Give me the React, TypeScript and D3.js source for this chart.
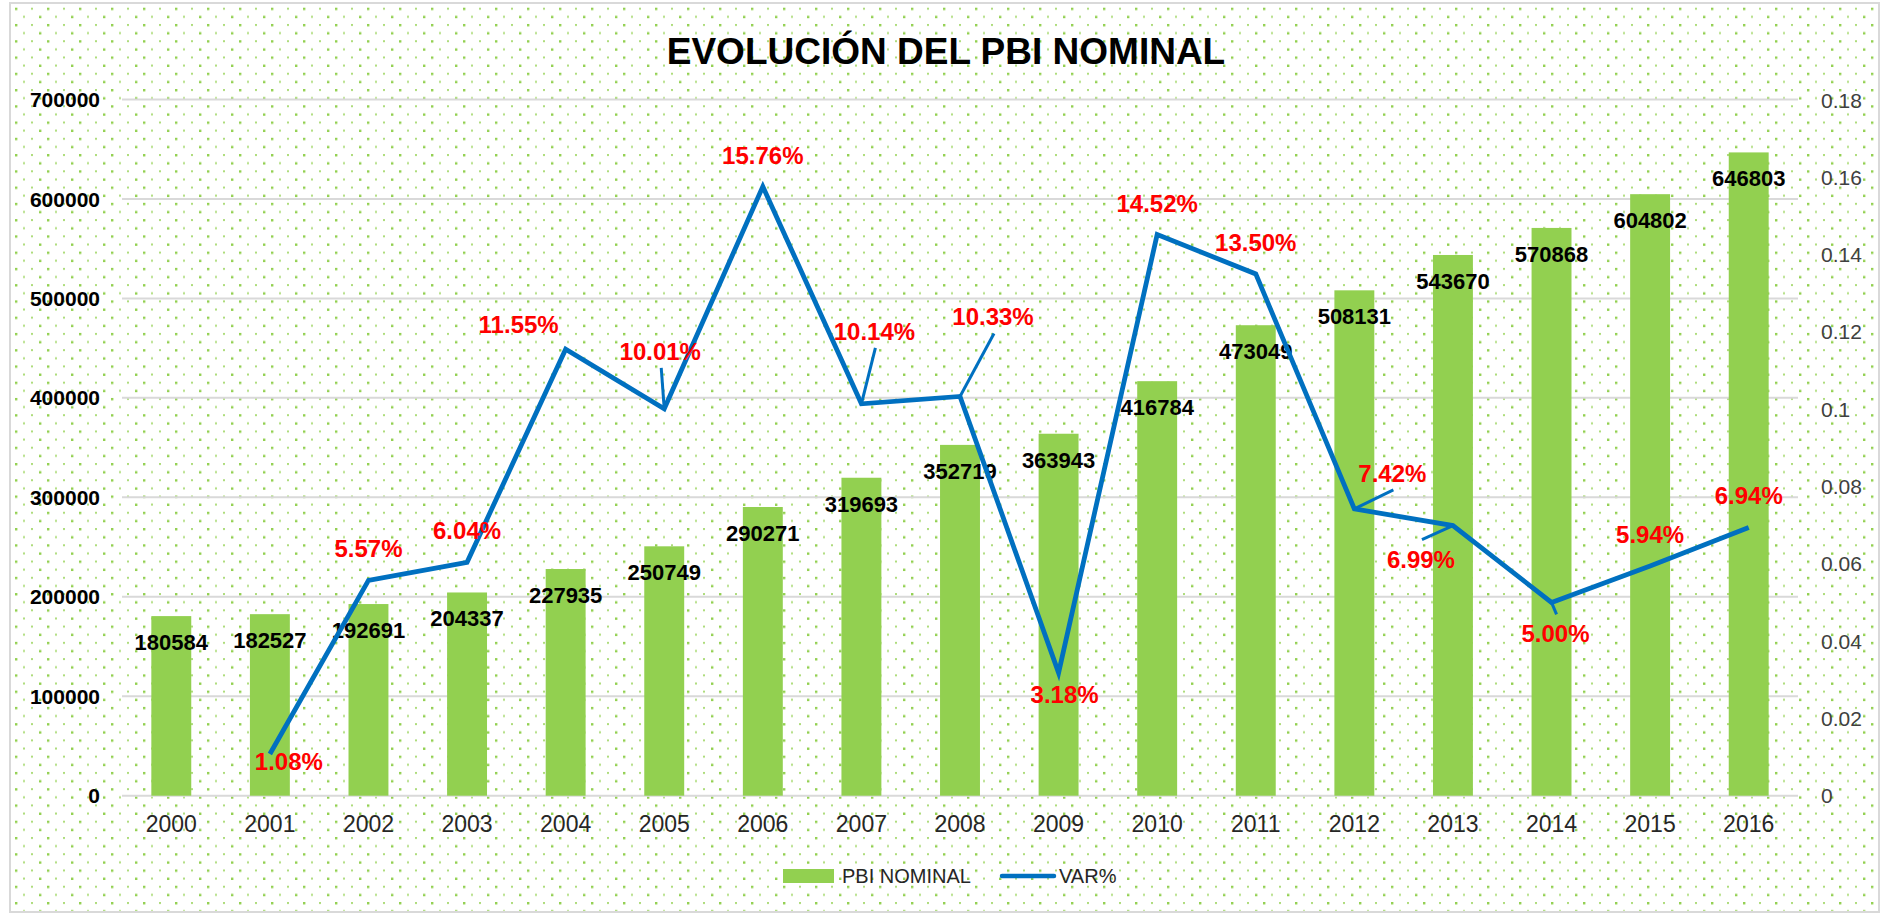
import React from 'react';
import * as d3 from 'd3';

// data
const years = ['2000', '2001', '2002', '2003', '2004', '2005', '2006', '2007', '2008',
  '2009', '2010', '2011', '2012', '2013', '2014', '2015', '2016'];
const pbiNominal = [180584, 182527, 192691, 204337, 227935, 250749, 290271, 319693, 352719,
  363943, 416784, 473049, 508131, 543670, 570868, 604802, 646803];
const varPct: (number | null)[] = [null, 0.0108, 0.0557, 0.0604, 0.1155, 0.1001, 0.1576, 0.1014,
  0.1033, 0.0318, 0.1452, 0.1350, 0.0742, 0.0699, 0.0500, 0.0594, 0.0694];
const leftTicks = [0, 100000, 200000, 300000, 400000, 500000, 600000, 700000];
const rightTicks = [0, 0.02, 0.04, 0.06, 0.08, 0.1, 0.12, 0.14, 0.16, 0.18];
const title = 'EVOLUCIÓN DEL PBI NOMINAL';
const seriesNames = ['PBI NOMINAL', 'VAR%'];

// label nudges for the % labels (dx, baseline offset from point, leader line?)
const pctNudge: Record<string, [number, number, boolean]> = {
  '2001': [19, 16, false],
  '2004': [-47, -16, false],
  '2005': [-4, -49, true],
  '2007': [13, -64, true],
  '2008': [33, -71, true],
  '2009': [6, 30, false],
  '2012': [38, -27, true],
  '2013': [-32, 42, true],
  '2014': [4, 40, true],
};

const W = 1881;
const H = 913;
const font = '"Liberation Sans", Arial, sans-serif';
const green = '#92d050';
const blue = '#0070c0';

export default function App() {
  const x = d3.scaleBand<string>()
    .domain(years)
    .range([122, 1798])
    .paddingInner(0.595)
    .paddingOuter(0.2975);
  const yL = d3.scaleLinear().domain([0, 700000]).range([795.7, 99.5]);
  const yR = d3.scaleLinear().domain([0, 0.18]).range([795.7, 100]);
  const cx = (y: string) => (x(y) as number) + x.bandwidth() / 2;

  const linePts = years
    .map((yr, i) => ({ yr, v: varPct[i] }))
    .filter(d => d.v != null) as { yr: string; v: number }[];
  const line = d3.line<{ yr: string; v: number }>()
    .x(d => cx(d.yr))
    .y(d => yR(d.v));

  const fmtR = (v: number) => String(Math.round(v * 100) / 100);

  return (
    <svg width={W} height={H} style={{ position: 'absolute', left: 0, top: 0, display: 'block' }}>
      <defs>
        <pattern id="dots" patternUnits="userSpaceOnUse" width={32} height={16.26} x={15} y={7.7}>
          <rect x={0} y={0} width={2.4} height={2.4} fill={green} />
          <rect x={16} y={0} width={2} height={2} fill={green} opacity={0.75} />
          <rect x={8} y={8.13} width={2} height={2} fill={green} opacity={0.75} />
          <rect x={24} y={8.13} width={2.4} height={2.4} fill={green} />
        </pattern>
      </defs>
      <rect x={0} y={0} width={W} height={H} fill="#fff" />
      <rect x={10} y={3} width={1869} height={909} fill="url(#dots)" stroke="#d9d9d9" strokeWidth={2} />

      <text x={946} y={64} textAnchor="middle" fontFamily={font} fontWeight="bold" fontSize={37} fill="#000">
        {title}
      </text>

      {/* gridlines + left axis */}
      {leftTicks.map(t => (
        <g key={t}>
          <line x1={122} x2={1798} y1={yL(t)} y2={yL(t)} stroke="#d9d9d9" strokeWidth={2} />
          <text x={100} y={yL(t)} dy="0.36em" textAnchor="end" fontFamily={font} fontWeight="bold"
            fontSize={21} fill="#000">{t}</text>
        </g>
      ))}

      {/* right axis */}
      {rightTicks.map(t => (
        <text key={t} x={1821} y={yR(t)} dy="0.36em" textAnchor="start" fontFamily={font}
          fontSize={21} fill="#404040">{fmtR(t)}</text>
      ))}

      {/* bars */}
      {years.map((yr, i) => (
        <rect key={yr} x={x(yr)} y={yL(pbiNominal[i])} width={x.bandwidth()}
          height={yL(0) - yL(pbiNominal[i])} fill={green} />
      ))}

      {/* x axis labels */}
      {years.map(yr => (
        <text key={yr} x={cx(yr)} y={832} textAnchor="middle" fontFamily={font} fontSize={23}
          fill="#262626">{yr}</text>
      ))}

      {/* bar value labels */}
      {years.map((yr, i) => (
        <text key={yr} x={cx(yr)} y={yL(pbiNominal[i]) + 34} textAnchor="middle" fontFamily={font}
          fontWeight="bold" fontSize={22} fill="#000">{pbiNominal[i]}</text>
      ))}

      {/* VAR% line */}
      <path d={line(linePts) as string} fill="none" stroke={blue} strokeWidth={4.8}
        strokeLinejoin="miter" />

      {/* % labels with leader lines */}
      {linePts.map(d => {
        const px = cx(d.yr);
        const py = yR(d.v);
        const [dx, dy, leader] = pctNudge[d.yr] || [0, -23, false];
        const lx = px + dx;
        const ly = py + dy;
        const above = dy < 0;
        return (
          <g key={d.yr}>
            {leader && (
              <line x1={lx + 1} y1={above ? ly + 8 : ly - 28} x2={px} y2={py}
                stroke={blue} strokeWidth={3} />
            )}
            <text x={lx} y={ly} textAnchor="middle" fontFamily={font} fontWeight="bold"
              fontSize={24} fill="#ff0000">{(d.v * 100).toFixed(2) + '%'}</text>
          </g>
        );
      })}

      {/* legend */}
      <rect x={783} y={869} width={51} height={14} fill={green} />
      <text x={842} y={883} fontFamily={font} fontSize={20} fill="#262626">{seriesNames[0]}</text>
      <line x1={1002} x2={1054} y1={876} y2={876} stroke={blue} strokeWidth={4.5} strokeLinecap="round" />
      <text x={1059} y={883} fontFamily={font} fontSize={20} fill="#262626">{seriesNames[1]}</text>
    </svg>
  );
}
